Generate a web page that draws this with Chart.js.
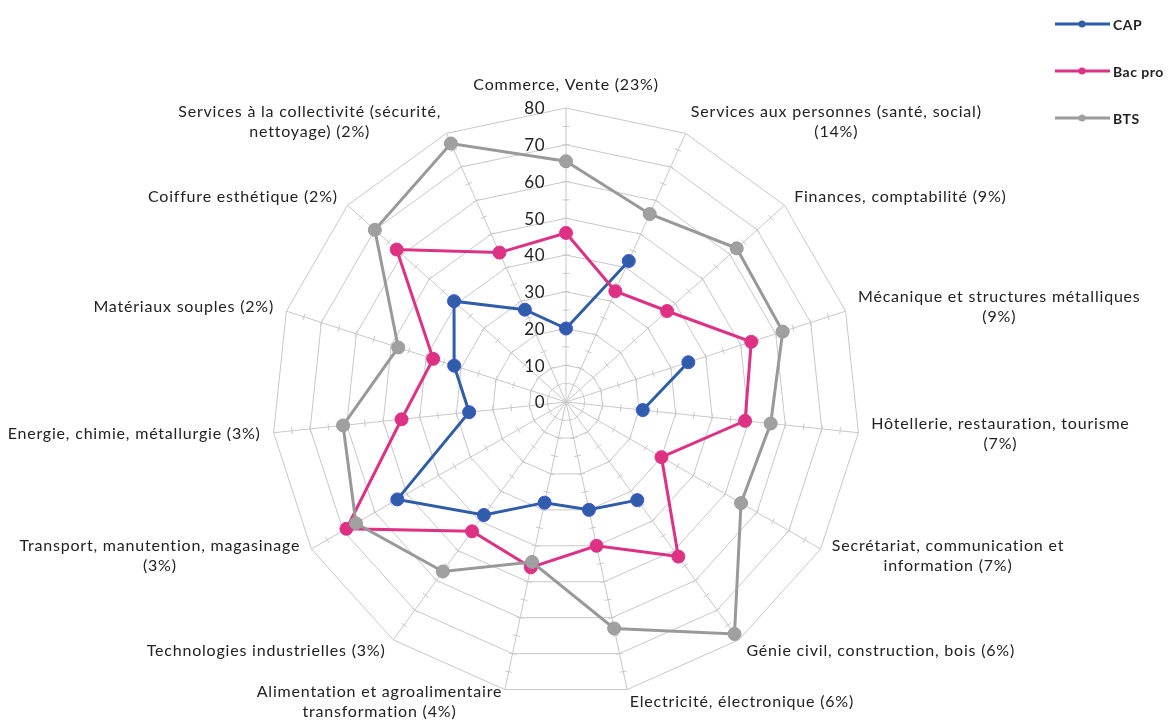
<!DOCTYPE html>
<html><head><meta charset="utf-8">
<script src="https://cdn.jsdelivr.net/npm/chart.js@4/dist/chart.umd.min.js"></script>
<style>html,body{margin:0;padding:0;background:#fff}#wrap{width:1174px;height:720px;position:relative}</style>
</head><body><div id="wrap"><canvas id="c"></canvas></div>
<script>
// ---------- data ----------
const categories = [
  ["Commerce, Vente (23%)"],
  ["Services aux personnes (santé, social)", "(14%)"],
  ["Finances, comptabilité (9%)"],
  ["Mécanique et structures métalliques", "(9%)"],
  ["Hôtellerie, restauration, tourisme", "(7%)"],
  ["Secrétariat, communication et", "information (7%)"],
  ["Génie civil, construction, bois (6%)"],
  ["Electricité, électronique (6%)"],
  ["Alimentation et agroalimentaire", "transformation (4%)"],
  ["Technologies industrielles (3%)"],
  ["Transport, manutention, magasinage", "(3%)"],
  ["Energie, chimie, métallurgie (3%)"],
  ["Matériaux souples (2%)"],
  ["Coiffure esthétique (2%)"],
  ["Services à la collectivité (sécurité,", "nettoyage) (2%)"]
];
const seriesNames = ["CAP", "Bac pro", "BTS"];
const capValues    = [20, 42, null, 35, 21, null, 33, 30, 28, 38, 53, 26.5, 32, 41, 27.5];
const bacProValues = [46, 33, 37, 53, 49, 30, 52, 40, 46, 43.5, 69, 45, 38, 62, 44.5];
const btsValues    = [65.5, 56, 62.5, 62, 56, 55, 78, 63, 44.5, 57, 66, 61, 48, 70, 77];
const tickLabels = [0, 10, 20, 30, 40, 50, 60, 70, 80];
const minorStep = 5;

// ---------- styles ----------
const lineColors  = ["#2F5DA8", "#DE3183", "#999999"];
const pointColors = ["#2F5DA8", "#DE3183", "#A0A0A0"];
const pointBorders = ["#3D4FE6", "#E0338A", "#9A9A9A"];
const gridColor = "#C8C8C8";
const textColor = "#222222";
const FONT = "Lato, 'Open Sans', sans-serif";

const decor = {
  id: 'decor',
  beforeDatasetsDraw(chart) {
    const s = chart.scales.r, ctx = chart.ctx;
    const n = chart.data.labels.length;
    const max = s.max;
    ctx.save();
    ctx.strokeStyle = gridColor;
    ctx.lineWidth = 1;
    for (let i = 0; i < n; i++) {
      const a = s.getIndexAngle(i);
      const ux = Math.cos(a), uy = Math.sin(a); // perpendicular to spoke
      for (let v = minorStep; v < max; v += minorStep) {
        const p = s.getPointPositionForValue(i, v);
        ctx.beginPath();
        ctx.moveTo(p.x - ux * 3.5, p.y - uy * 3.5);
        ctx.lineTo(p.x + ux * 3.5, p.y + uy * 3.5);
        ctx.stroke();
      }
    }
    ctx.restore();
  },
  afterDraw(chart) {
    const s = chart.scales.r, ctx = chart.ctx;
    ctx.save();
    // category labels
    const lh = 20;
    ctx.font = "16px " + FONT;
    ctx.letterSpacing = "0.8px";
    ctx.fillStyle = textColor;
    ctx.textAlign = 'center';
    ctx.textBaseline = 'middle';
    chart.data.labels.forEach((lines, i) => {
      const a = s.getIndexAngle(i);
      const sin = Math.sin(a), cos = Math.cos(a);
      const p = s.getPointPosition(i, s.drawingArea + 13);
      const w = Math.max(...lines.map(l => ctx.measureText(l).width));
      const h = lines.length * lh;
      let cx = p.x, top = p.y - h / 2;
      if (sin > 0.02) cx = p.x + w / 2;
      else if (sin < -0.02) cx = p.x - w / 2;
      else top = cos > 0 ? p.y - h : p.y;
      lines.forEach((l, k) => ctx.fillText(l, cx, top + lh * (k + 0.5)));
    });
    // tick labels
    ctx.font = "17px " + FONT;
    ctx.letterSpacing = "0.5px";
    ctx.textAlign = 'right';
    tickLabels.forEach(v => {
      const p = s.getPointPositionForValue(0, v);
      ctx.fillText(String(v), p.x - 21, p.y + 1);
    });
    // legend
    ctx.font = "bold 14px " + FONT;
    ctx.letterSpacing = "0.5px";
    ctx.textAlign = 'left';
    chart.data.datasets.forEach((ds, k) => {
      const y = 24 + k * 47;
      ctx.strokeStyle = ds.borderColor;
      ctx.lineWidth = 3;
      ctx.beginPath(); ctx.moveTo(1055, y); ctx.lineTo(1110, y); ctx.stroke();
      ctx.fillStyle = ds.pointBackgroundColor;
      ctx.beginPath(); ctx.arc(1082, y, 3.5, 0, Math.PI * 2); ctx.fill();
      ctx.fillStyle = textColor;
      ctx.fillText(ds.label, 1113, y + 1);
    });
    ctx.restore();
  }
};

const seriesValues = [capValues, bacProValues, btsValues];
const datasets = seriesNames.map((name, k) => ({
  label: name,
  data: seriesValues[k],
  borderColor: lineColors[k],
  backgroundColor: lineColors[k],
  pointBackgroundColor: pointColors[k],
  pointBorderColor: pointBorders[k],
  pointBorderWidth: 1,
  pointRadius: 6.5,
  borderWidth: 3,
  fill: false,
  spanGaps: false,
  tension: 0,
  order: 3 - k
}));

new Chart(document.getElementById('c'), {
  type: 'radar',
  data: { labels: categories, datasets },
  options: {
    responsive: true,
    maintainAspectRatio: false,
    animation: false,
    layout: { padding: { left: 272, right: 314, top: 108, bottom: 24 } },
    plugins: { legend: { display: false }, tooltip: { enabled: false }, title: { display: false } },
    scales: {
      r: {
        min: 0, max: 80,
        ticks: { display: false, stepSize: 10 },
        pointLabels: { display: false },
        grid: { color: gridColor, lineWidth: 1 },
        angleLines: { color: gridColor, lineWidth: 1 }
      }
    }
  },
  plugins: [decor]
});
</script>
</body></html>
